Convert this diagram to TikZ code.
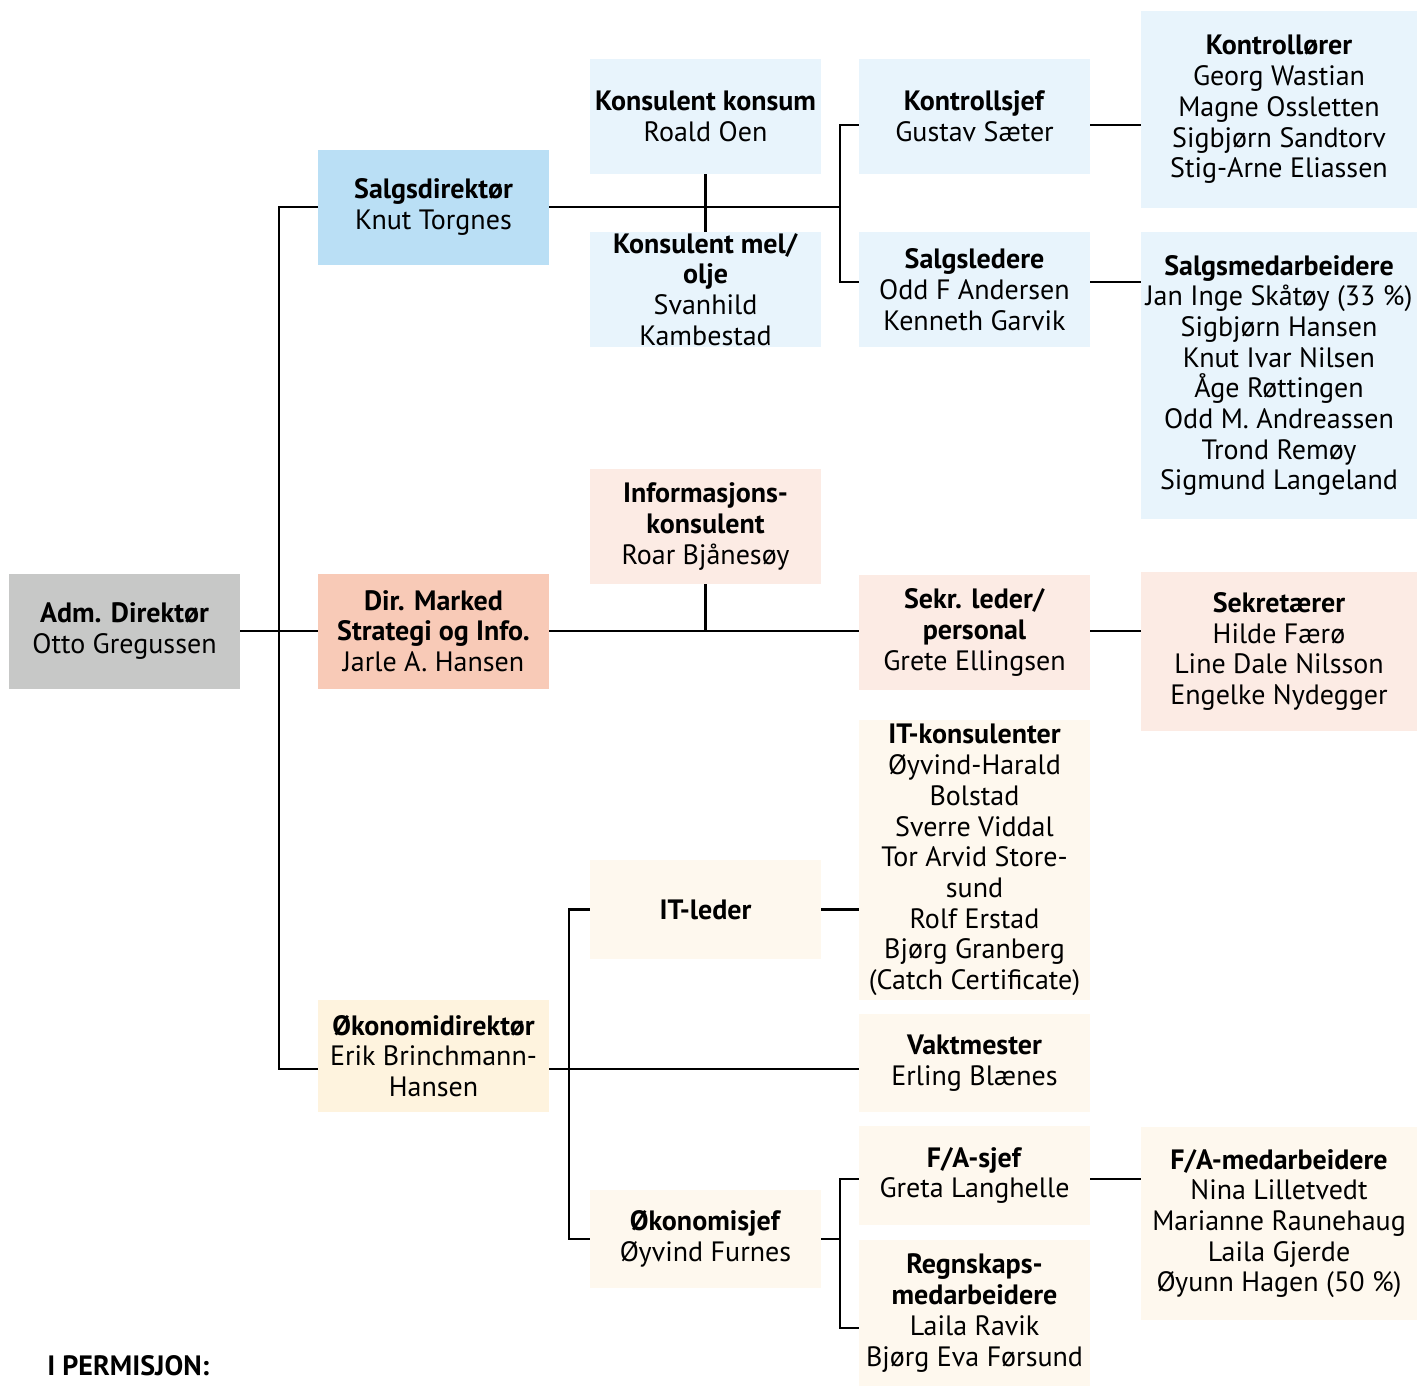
\documentclass[tikz,border=0pt]{standalone}
\usepackage{fontspec}
\setmainfont{PT Sans}
\usetikzlibrary{positioning}
\definecolor{admgray}{HTML}{C7C8C7}
\definecolor{salgdark}{HTML}{BADFF5}
\definecolor{salglight}{HTML}{E8F4FC}
\definecolor{markdark}{HTML}{F8CAB7}
\definecolor{marklight}{HTML}{FCEBE4}
\definecolor{okodark}{HTML}{FEF3DE}
\definecolor{okolight}{HTML}{FEF8EE}
\newcommand{\rolle}[2]{\textbf{#1}\\#2}
\tikzset{point/.style={coordinate},
  box/.style={rectangle, align=center, inner sep=0pt,
    minimum width=115.5pt, minimum height=57.5pt,
    font=\fontsize{14}{15.35}\selectfont},
  wbox/.style={box, minimum width=138pt},
  line/.style={line width=1.25pt, draw=black},
}
\begin{document}
\begin{tikzpicture}[x=0.5pt,y=-0.5pt]
    \useasboundingbox (0,0) rectangle (1417,1386);
    % level 1 and 2
    \node [box, fill=admgray] (adm) at (124.5,631) {\rolle{Adm. Direktør}{Otto Gregussen}};
    \node [box, fill=salgdark] (salg) at (433.5,207) {\rolle{Salgsdirektør}{Knut Torgnes}};
    \node [box, fill=markdark] (dirm) at (433.5,631) {\rolle{Dir. Marked}{\textbf{Strategi og Info.}\\Jarle A. Hansen}};
    \node [box, fill=okodark, minimum height=56pt] (okdir) at (433.5,1056) {\rolle{Økonomidirektør}{Erik Brinchmann-\\Hansen}};

    % salg
    \node [box, fill=salglight] (kkonsum) at (705.5,116.5) {\rolle{Konsulent konsum}{Roald Oen}};
    \node [box, fill=salglight] (kmel) at (705.5,289.5) {\rolle{Konsulent mel/}{\textbf{olje}\\Svanhild\\Kambestad}};
    \node [box, fill=salglight] (ksjef) at (974.5,116.5) {\rolle{Kontrollsjef}{Gustav Sæter}};
    \node [box, fill=salglight] (sledere) at (974.5,289.5) {\rolle{Salgsledere}{Odd F Andersen\\Kenneth Garvik}};
    \node [wbox, fill=salglight, minimum height=98.5pt] (kontr) at (1279,109.5)
        {\rolle{Kontrollører}{Georg Wastian\\Magne Ossletten\\Sigbjørn Sandtorv\\Stig-Arne Eliassen}};
    \node [wbox, fill=salglight, minimum height=143.5pt] (smed) at (1279,375.5)
        {\rolle{Salgsmedarbeidere}{Jan Inge Skåtøy (33~\%)\\Sigbjørn Hansen\\Knut Ivar Nilsen\\Åge Røttingen\\Odd M. Andreassen\\Trond Remøy\\Sigmund Langeland}};

    % marked
    \node [box, fill=marklight] (info) at (705.5,526.5) {\rolle{Informasjons-}{\textbf{konsulent}\\Roar Bjånesøy}};
    \node [box, fill=marklight] (sekrl) at (974.5,632.5) {\rolle{Sekr. leder/}{\textbf{personal}\\Grete Ellingsen}};
    \node [wbox, fill=marklight, minimum height=79.5pt] (sekr) at (1279,651.5)
        {\rolle{Sekretærer}{Hilde Færø\\Line Dale Nilsson\\Engelke Nydegger}};

    % okonomi
    \node [box, fill=okolight, minimum height=49.5pt] (itl) at (705.5,909.5) {\textbf{IT-leder}};
    \node [box, fill=okolight, minimum height=140pt] (itk) at (974.5,860)
        {\rolle{IT-konsulenter}{Øyvind-Harald\\Bolstad\\Sverre Viddal\\Tor Arvid Store-\\sund\\Rolf Erstad\\Bjørg Granberg\\(Catch Certificate)}};
    \node [box, fill=okolight, minimum height=49pt] (vakt) at (974.5,1063) {\rolle{Vaktmester}{Erling Blænes}};
    \node [box, fill=okolight, minimum height=49pt] (oksjef) at (705.5,1239) {\rolle{Økonomisjef}{Øyvind Furnes}};
    \node [box, fill=okolight, minimum height=49.5pt] (fasjef) at (974.5,1175.5) {\rolle{F/A-sjef}{Greta Langhelle}};
    \node [box, fill=okolight, minimum height=73pt] (regn) at (974.5,1313)
        {\rolle{Regnskaps-}{\textbf{medarbeidere}\\Laila Ravik\\Bjørg Eva Førsund}};
    \node [wbox, fill=okolight, minimum height=96.5pt] (famed) at (1279,1223.5)
        {\rolle{F/A-medarbeidere}{Nina Lilletvedt\\Marianne Raunehaug\\Laila Gjerde\\Øyunn Hagen (50~\%)}};

    \node [anchor=base west, inner sep=0pt, font=\fontsize{14}{15.35}\selectfont\bfseries] (perm) at (47,1375) {I PERMISJON:};

    % junctions
    \node [point] (rt) at (279,631) {};
    \node [point] (rk) at (840,125) {};
    \node [point] (rs) at (840,282) {};
    \node [point] (ro) at (569,1069) {};
    \node [point] (rf) at (840,1179) {};
    \node [point] (rr) at (840,1328) {};

    \begin{scope}[line]
        \draw (adm.east) -- (dirm.west);
        \draw (salg.west) -| (rt) |- (okdir.west |- ro);

        \draw (salg.east) -- (salg.east -| rk);
        \draw (kkonsum) -- (kmel);
        \draw (ksjef.west |- rk) -- (rk) -- (rs) -- (sledere.west |- rs);
        \draw (ksjef.east |- rk) -- (kontr.west |- rk);
        \draw (sledere.east |- rs) -- (smed.west |- rs);

        \draw (dirm.east) -- (sekrl.west |- dirm.east);
        \draw (info) -- (info |- dirm.east);
        \draw (sekrl.east |- dirm.east) -- (sekr.west |- dirm.east);

        \draw (okdir.east |- ro) -- (vakt.west |- ro);
        \draw (itl.west) -| (ro) |- (oksjef.west);
        \draw (itl.east) -- (itk.west |- itl.east);
        \draw (oksjef.east) -- (oksjef.east -| rf);
        \draw (fasjef.west |- rf) -- (rf) -- (rr) -- (regn.west |- rr);
        \draw (fasjef.east |- rf) -- (famed.west |- rf);
    \end{scope}
\end{tikzpicture}
\end{document}
